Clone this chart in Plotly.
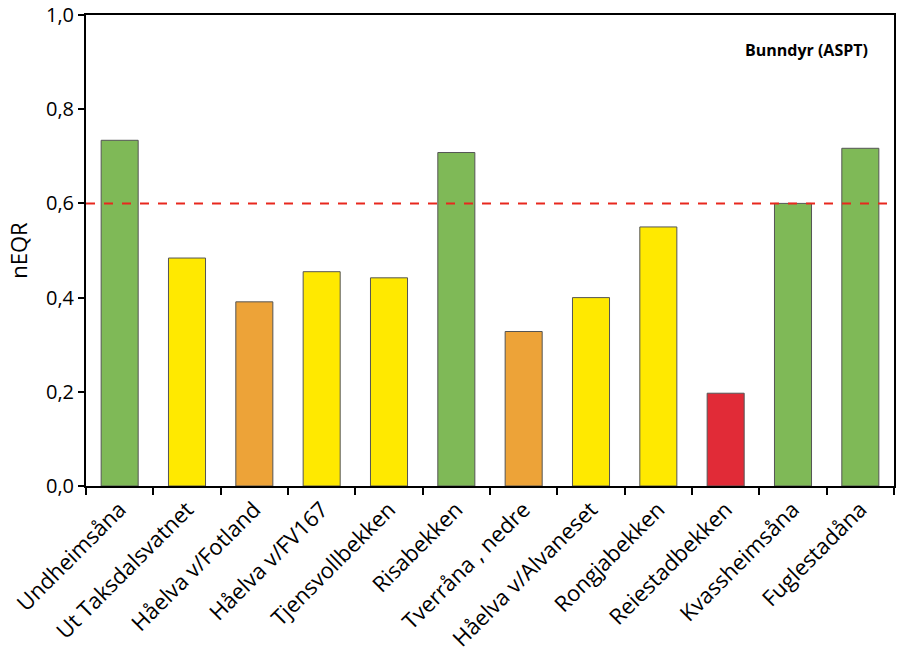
import plotly.graph_objects as go

categories = ["Undheimsåna", "Ut Taksdalsvatnet", "Håelva v/Fotland", "Håelva v/FV167",
              "Tjensvollbekken", "Risabekken", "Tverråna , nedre", "Håelva v/Alvaneset",
              "Rongjabekken", "Reiestadbekken", "Kvassheimsåna", "Fuglestadåna"]
neqr = [0.734, 0.484, 0.391, 0.455, 0.442, 0.708, 0.328, 0.400, 0.550, 0.197, 0.600, 0.717]
bar_colors = ["#7FB957", "#FFE900", "#EDA338", "#FFE900", "#FFE900", "#7FB957",
              "#EDA338", "#FFE900", "#FFE900", "#E12B37", "#7FB957", "#7FB957"]
threshold = 0.6
y_ticks = [0.0, 0.2, 0.4, 0.6, 0.8, 1.0]

fig = go.Figure()
fig.add_trace(go.Bar(
    x=categories, y=neqr,
    marker=dict(color=bar_colors, line=dict(color="#555555", width=1)),
    width=0.55,
))
fig.add_shape(type="line", xref="paper", x0=0, x1=1, yref="y", y0=threshold, y1=threshold,
              line=dict(color="#E8281E", width=2, dash="dash"))
fig.add_annotation(text="<b>Bunndyr (ASPT)</b>", xref="paper", yref="paper",
                   x=0.970, y=0.925, xanchor="right", yanchor="middle", showarrow=False,
                   font=dict(size=16, color="#000000", family="Open Sans"))

fig.update_layout(
    width=899, height=663,
    margin=dict(l=86, r=5, t=15, b=177),
    plot_bgcolor="white", paper_bgcolor="white",
    separators=", ",
    showlegend=False,
    font=dict(family="Open Sans", size=21, color="#000000"),
)
fig.update_xaxes(
    tickangle=-45, showline=True, linecolor="black", linewidth=2, mirror=True,
    ticks="outside", tickson="boundaries", ticklen=7, tickwidth=2, tickcolor="black",
    tickfont=dict(size=22), automargin=False, ticklabeloverflow="allow",
)
fig.update_yaxes(
    range=[0, 1.0], tickvals=y_ticks, tickformat=".1f",
    showline=True, linecolor="black", linewidth=2, mirror=True,
    ticks="outside", ticklen=6, tickwidth=2, tickcolor="black",
    showgrid=False, zeroline=False,
    title=dict(text="nEQR", font=dict(size=22), standoff=12),
    tickfont=dict(size=20), automargin=False, ticklabeloverflow="allow",
)
fig.write_html("out.html", config={"displayModeBar": False},
               post_script="document.body.style.margin='0';document.body.style.overflow='hidden';")
